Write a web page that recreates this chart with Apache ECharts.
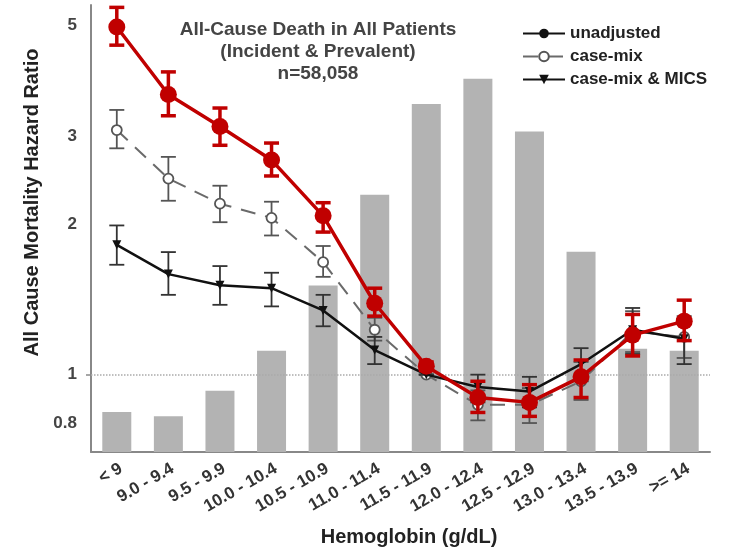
<!DOCTYPE html>
<html>
<head>
<meta charset="utf-8">
<script src="https://cdn.jsdelivr.net/npm/echarts@6/dist/echarts.min.js"></script>
<style>html,body{margin:0;padding:0;background:#fff}#c{width:732px;height:549px}</style>
</head>
<body>
<div id="c"></div>
<script>
var categories = ['< 9','9.0 - 9.4','9.5 - 9.9','10.0 - 10.4','10.5 - 10.9','11.0 - 11.4','11.5 - 11.9','12.0 - 12.4','12.5 - 12.9','13.0 - 13.4','13.5 - 13.9','>= 14'];
var patientShare = [1.9, 1.7, 2.9, 4.8, 7.9, 12.2, 16.5, 17.7, 15.2, 9.5, 4.9, 4.8];
var unadjHR = [4.97, 3.64, 3.14, 2.69, 2.08, 1.39, 1.04, 0.90, 0.88, 0.99, 1.20, 1.28];
var unadjLo = [4.57, 3.30, 2.88, 2.50, 1.93, 1.31, 1.02, 0.84, 0.825, 0.90, 1.09, 1.17];
var unadjHi = [5.44, 4.04, 3.42, 2.91, 2.21, 1.49, 1.06, 0.97, 0.955, 1.07, 1.32, 1.41];
var caseMixHR = [3.09, 2.47, 2.20, 2.06, 1.68, 1.23, 1.00, 0.87, 0.87, 0.97, 1.22, 1.19];
var caseMixLo = [2.84, 2.23, 2.02, 1.90, 1.57, 1.17, 1.00, 0.81, 0.80, 0.89, 1.11, 1.08];
var caseMixHi = [3.39, 2.73, 2.39, 2.22, 1.81, 1.30, 1.00, 0.93, 0.94, 1.06, 1.34, 1.31];
var micsHR = [1.82, 1.59, 1.51, 1.49, 1.345, 1.12, 1.00, 0.945, 0.925, 1.05, 1.23, 1.18];
var micsLo = [1.66, 1.445, 1.38, 1.37, 1.25, 1.05, 1.00, 0.88, 0.86, 0.97, 1.10, 1.05];
var micsHi = [1.99, 1.76, 1.65, 1.60, 1.445, 1.19, 1.00, 1.00, 0.99, 1.13, 1.36, 1.29];
var yTickLabels = [0.8, 1, 2, 3, 5];

function errData(lo, hi) {
  return categories.map(function (c, i) { return [i, lo[i], hi[i]]; });
}
function errSeries(name, lo, hi, color, width, cap, z) {
  return {
    name: name, type: 'custom', yAxisIndex: 0, z: z, silent: true,
    encode: { x: 0, y: [1, 2] },
    data: errData(lo, hi),
    renderItem: function (params, api) {
      var x = api.value(0);
      var a = api.coord([x, api.value(1)]);
      var b = api.coord([x, api.value(2)]);
      var st = { stroke: color, lineWidth: width };
      return { type: 'group', children: [
        { type: 'line', shape: { x1: a[0], y1: a[1], x2: b[0], y2: b[1] }, style: st },
        { type: 'line', shape: { x1: a[0] - cap / 2, y1: a[1], x2: a[0] + cap / 2, y2: a[1] }, style: st },
        { type: 'line', shape: { x1: b[0] - cap / 2, y1: b[1], x2: b[0] + cap / 2, y2: b[1] }, style: st }
      ]};
    }
  };
}

var font = 'Liberation Sans, Arial, sans-serif';
var chart = echarts.init(document.getElementById('c'), null, { renderer: 'canvas' });
chart.setOption({
  animation: false,
  backgroundColor: '#fff',
  title: {
    text: 'All-Cause Death in All Patients\n(Incident & Prevalent)\nn=58,058',
    left: 313, top: 14, textAlign: 'center',
    textStyle: { fontFamily: font, fontWeight: 'bold', fontSize: 19, color: '#444', lineHeight: 22 }
  },
  legend: {
    orient: 'vertical', left: 517, top: 20,
    itemWidth: 42, itemHeight: 12, itemGap: 6,
    textStyle: { fontFamily: font, fontWeight: 'bold', fontSize: 17, color: '#222' },
    data: [
      { name: 'unadjusted', itemStyle: { color: '#111', borderColor: '#111' }, lineStyle: { color: '#111', width: 2 } },
      { name: 'case-mix' },
      { name: 'case-mix & MICS' }
    ]
  },
  grid: { left: 91, right: 22, top: 5, bottom: 97, containLabel: false, outerBoundsMode: 'none' },
  xAxis: {
    type: 'category', data: categories, boundaryGap: true,
    axisLine: { lineStyle: { color: '#888', width: 2 } },
    axisTick: { alignWithLabel: true, length: 5, lineStyle: { color: '#888', width: 1.5 } },
    axisLabel: { rotate: 30, margin: 8, interval: 0, verticalAlign: 'top', fontFamily: font, fontWeight: 'bold', fontSize: 17, color: '#333' },
    name: 'Hemoglobin (g/dL)', nameLocation: 'middle', nameGap: 75,
    nameTextStyle: { fontFamily: font, fontWeight: 'bold', fontSize: 20, color: '#222', padding: [0, 0, 0, 17] }
  },
  yAxis: [
    {
      type: 'log', logBase: 10, min: 0.7, max: 5.5,
      axisLine: { show: true, lineStyle: { color: '#888', width: 2 } },
      axisTick: { show: true, customValues: [1], length: 5, lineStyle: { color: '#888', width: 1.5 } },
      axisLabel: { customValues: yTickLabels, margin: 14, fontFamily: font, fontWeight: 'bold', fontSize: 17, color: '#444' },
      splitLine: { show: false },
      name: 'All Cause Mortality Hazard Ratio', nameLocation: 'middle', nameGap: 48,
      nameTextStyle: { fontFamily: font, fontWeight: 'bold', fontSize: 20, color: '#222', padding: [0, 0, 0, 52] }
    },
    {
      type: 'value', min: 0, max: 21.2, show: false, splitLine: { show: false }
    }
  ],
  series: [
    {
      name: 'share', type: 'bar', yAxisIndex: 1, data: patientShare, barWidth: 29,
      itemStyle: { color: '#b3b3b3' }, z: 1, silent: true
    },
    errSeries('caseMixErr', caseMixLo, caseMixHi, '#555', 1.8, 15, 3),
    {
      name: 'case-mix', type: 'line', yAxisIndex: 0, data: caseMixHR, z: 4,
      symbol: 'circle', symbolSize: 10, showSymbol: true,
      itemStyle: { color: '#fff', borderColor: '#555', borderWidth: 1.8 },
      lineStyle: { color: '#6a6a6a', width: 2, type: [15, 10] }
    },
    errSeries('micsErr', micsLo, micsHi, '#333', 1.8, 15, 5),
    {
      name: 'case-mix & MICS', type: 'line', yAxisIndex: 0, data: micsHR, z: 6,
      symbol: 'triangle', symbolRotate: 180, symbolSize: 9,
      itemStyle: { color: '#111' },
      lineStyle: { color: '#111', width: 2.5 },
      markLine: {
        silent: true, symbol: ['none', 'none'], label: { show: false },
        lineStyle: { type: 'dotted', color: '#aaa', width: 1.5 },
        data: [{ yAxis: 1 }]
      }
    },
    {
      name: 'unadjusted', type: 'line', yAxisIndex: 0, data: unadjHR, z: 8,
      symbol: 'circle', symbolSize: 17,
      itemStyle: { color: '#c00000' },
      lineStyle: { color: '#c00000', width: 3.5 }
    },
    errSeries('unadjErr', unadjLo, unadjHi, '#c00000', 3.5, 15, 9)
  ]
});
</script>
</body>
</html>
